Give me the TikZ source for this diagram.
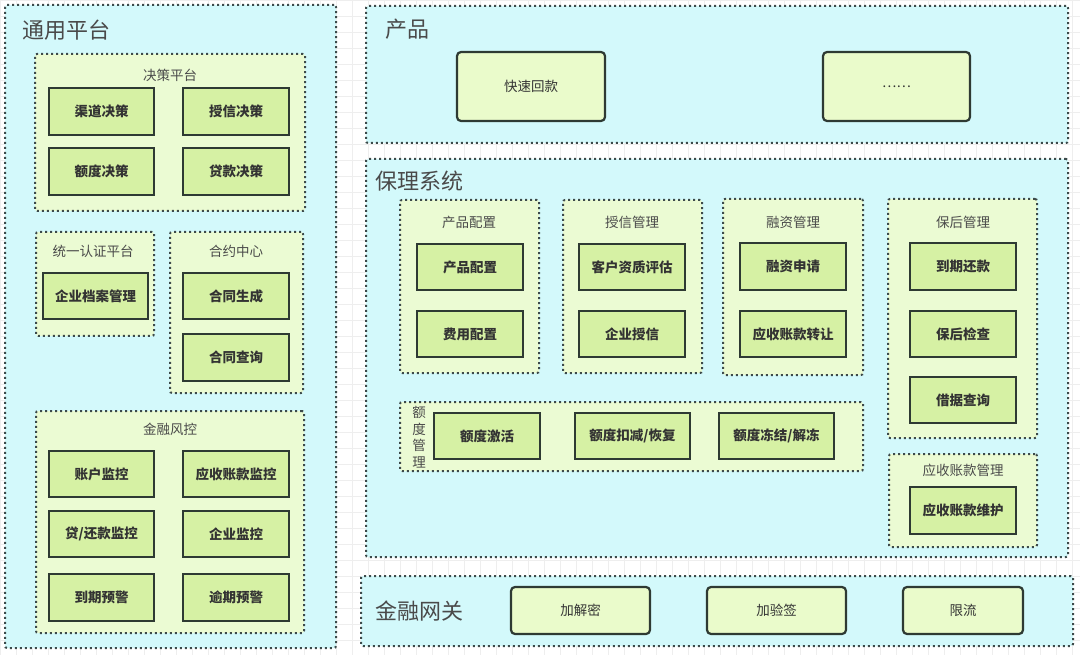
\documentclass[tikz,border=0pt]{standalone}
\usepackage{fontspec}
\setmainfont{Noto Sans CJK SC}
\definecolor{contfill}{HTML}{D3F9FB}
\definecolor{grpfill}{HTML}{EBFBD3}
\definecolor{boxfill}{HTML}{D6F1A4}
\definecolor{prodfill}{HTML}{EAFBCB}
\definecolor{edge}{HTML}{2E3A33}
\definecolor{dotc}{HTML}{3C4A4A}
\definecolor{txt}{HTML}{333333}
\definecolor{ttl}{HTML}{4A4A4A}
\definecolor{gridc}{HTML}{EEEEEE}
\tikzset{
  cont/.style={draw=dotc, fill=contfill, line width=2pt, dash pattern=on 2pt off 3pt, rounded corners=2pt, inner sep=0pt},
  grp/.style={draw=dotc, fill=grpfill, line width=2pt, dash pattern=on 2pt off 3pt, rounded corners=2pt, inner sep=0pt},
  ibox/.style={draw=edge, fill=boxfill, line width=2.2pt, inner sep=0pt, text=txt, font=\fontsize{13.5}{16}\selectfont\bfseries},
  pbox/.style={draw=edge, fill=prodfill, line width=2.2pt, rounded corners=4pt, inner sep=0pt, text=txt, font=\fontsize{13.5}{16}\selectfont},
  bigttl/.style={text=ttl, font=\fontsize{22}{26}\selectfont, inner sep=0pt},
  grpttl/.style={text=ttl, font=\fontsize{13.5}{16}\selectfont, inner sep=0pt},
}
\newcommand\mkbox[7]{\node[#1, minimum width={#4-#2}, minimum height={#5-#3}] (#6) at ({(#2+#4)/2},{(#3+#5)/2}) {#7};}
\begin{document}
\begin{tikzpicture}[x=1pt,y=-1pt]
\useasboundingbox (0,0) rectangle (1080,655);
\fill[white] (0,0) rectangle (1080,655);
\foreach \gx in {0,16,...,1072} {\draw[gridc, line width=0.6pt] (\gx,0) -- (\gx,655);}
\foreach \gy in {0,16,...,650} {\draw[gridc, line width=0.6pt] (0,\gy) -- (1080,\gy);}

% containers
\mkbox{cont}{5}{5}{336}{648}{platform}{}
\mkbox{cont}{366}{6}{1068}{143}{product}{}
\mkbox{cont}{366}{159}{1068}{557}{factoring}{}
\mkbox{cont}{361}{576}{1073}{646}{gateway}{}
\node[bigttl, anchor=west] (platformT) at (22,30) {通用平台};
\node[bigttl, anchor=west] (productT) at (385,29) {产品};
\node[bigttl, anchor=west] (factoringT) at (375,181) {保理系统};
\node[bigttl, anchor=west] (gatewayT) at (375,611) {金融网关};

% 通用平台 groups
\mkbox{grp}{35}{54}{305}{211}{decision}{}
\node[grpttl] (decisionT) at (170,75) {决策平台};
\mkbox{ibox}{49}{88}{154}{135}{d1}{渠道决策}
\mkbox{ibox}{183}{88}{289}{135}{d2}{授信决策}
\mkbox{ibox}{49}{148}{154}{195}{d3}{额度决策}
\mkbox{ibox}{183}{148}{289}{195}{d4}{贷款决策}

\mkbox{grp}{36}{232}{154}{336}{auth}{}
\node[grpttl] (authT) at (93,251) {统一认证平台};
\mkbox{ibox}{43}{273}{148}{319}{a1}{企业档案管理}

\mkbox{grp}{170}{232}{303}{393}{contract}{}
\node[grpttl] (contractT) at (236,251) {合约中心};
\mkbox{ibox}{183}{273}{289}{319}{c1}{合同生成}
\mkbox{ibox}{183}{334}{289}{381}{c2}{合同查询}

\mkbox{grp}{36}{411}{304}{633}{risk}{}
\node[grpttl] (riskT) at (170,429) {金融风控};
\mkbox{ibox}{49}{451}{154}{497}{r1}{账户监控}
\mkbox{ibox}{183}{451}{289}{497}{r2}{应收账款监控}
\mkbox{ibox}{49}{511}{154}{557}{r3}{贷/还款监控}
\mkbox{ibox}{183}{511}{289}{557}{r4}{企业监控}
\mkbox{ibox}{49}{574}{154}{621}{r5}{到期预警}
\mkbox{ibox}{183}{574}{289}{621}{r6}{逾期预警}

% 产品
\mkbox{pbox}{457}{52}{605}{121}{p1}{快速回款}
\mkbox{pbox}{823}{52}{970}{121}{p2}{……}

% 保理系统 groups
\mkbox{grp}{400}{200}{539}{373}{pconf}{}
\node[grpttl] (pconfT) at (469,222) {产品配置};
\mkbox{ibox}{417}{244}{523}{290}{pc1}{产品配置}
\mkbox{ibox}{417}{311}{523}{357}{pc2}{费用配置}

\mkbox{grp}{563}{200}{702}{373}{credit}{}
\node[grpttl] (creditT) at (632,222) {授信管理};
\mkbox{ibox}{579}{244}{685}{290}{cr1}{客户资质评估}
\mkbox{ibox}{579}{311}{685}{357}{cr2}{企业授信}

\mkbox{grp}{723}{199}{863}{375}{finance}{}
\node[grpttl] (financeT) at (793,222) {融资管理};
\mkbox{ibox}{740}{243}{846}{290}{f1}{融资申请}
\mkbox{ibox}{740}{311}{846}{357}{f2}{应收账款转让}

\mkbox{grp}{888}{199}{1037}{438}{post}{}
\node[grpttl] (postT) at (963,222) {保后管理};
\mkbox{ibox}{910}{243}{1016}{290}{po1}{到期还款}
\mkbox{ibox}{910}{311}{1016}{357}{po2}{保后检查}
\mkbox{ibox}{910}{377}{1016}{423}{po3}{借据查询}

\mkbox{grp}{889}{454}{1037}{547}{recv}{}
\node[grpttl] (recvT) at (963,470) {应收账款管理};
\mkbox{ibox}{910}{487}{1016}{534}{rv1}{应收账款维护}

\mkbox{grp}{400}{402}{863}{471}{quota}{}
\node[grpttl, align=center, font=\fontsize{13.5}{16.5}\selectfont] (quotaT) at (419,437) {额\\度\\管\\理};
\mkbox{ibox}{434}{413}{540}{459}{q1}{额度激活}
\mkbox{ibox}{575}{413}{690}{459}{q2}{额度扣减/恢复}
\mkbox{ibox}{719}{413}{834}{459}{q3}{额度冻结/解冻}

% 金融网关
\mkbox{pbox}{511}{587}{650}{634}{g1}{加解密}
\mkbox{pbox}{707}{587}{846}{634}{g2}{加验签}
\mkbox{pbox}{903}{587}{1023}{634}{g3}{限流}
\end{tikzpicture}
\end{document}
